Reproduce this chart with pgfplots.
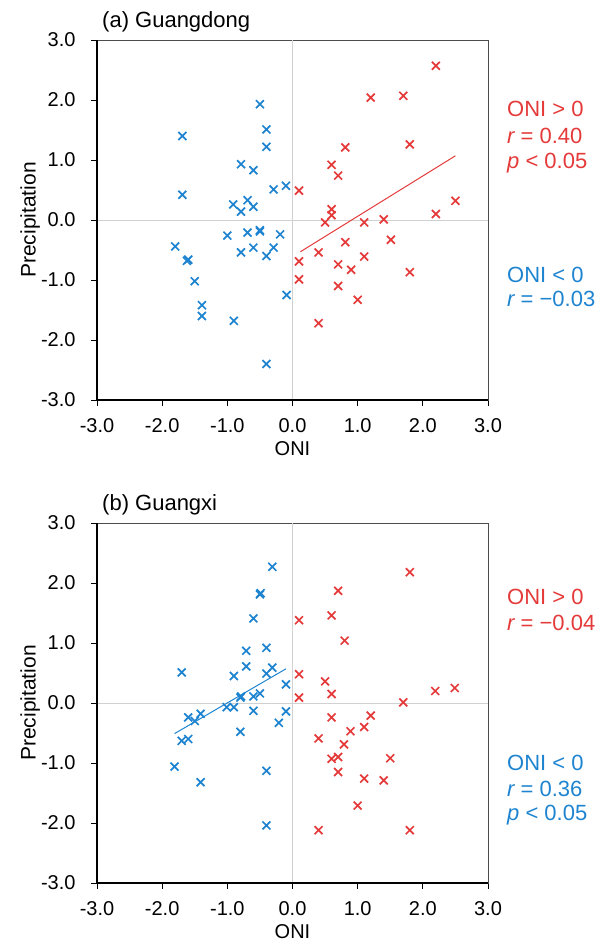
\documentclass[border=0pt]{standalone}
\usepackage{fontspec}
\setmainfont{Liberation Sans}
\usepackage{pgfplots}
\pgfplotsset{compat=1.18}
\definecolor{myred}{RGB}{228,58,58}
\definecolor{myblue}{RGB}{30,132,208}

\pgfplotsset{
  panel/.style={
    scale only axis, width=391pt, height=360pt,
    xmin=-3, xmax=3, ymin=-3, ymax=3,
    xtick={-3,-2,...,3}, ytick={-3,-2,...,3},
    tick align=outside, tick pos=left, major tick length=6pt,
    tick style={black, line width=0.8pt},
    axis line style={draw=black!70, line width=0.8pt},
    ticklabel style={font=\fontsize{20}{24}\selectfont},
    xticklabel style={yshift=-9pt},
    yticklabel style={xshift=-12pt},
    /pgf/number format/fixed, /pgf/number format/fixed zerofill,
    /pgf/number format/precision=1, /pgf/number format/assume math mode=true,
    xlabel style={font=\fontsize{20}{24}\selectfont, at={(axis description cs:0.5,-0.135)}, anchor=center},
    ylabel style={font=\fontsize{21}{25}\selectfont, at={(axis description cs:-0.171,0.5)}, anchor=center, rotate=0},
    clip=false,
  },
  redx/.style={only marks, mark=x, mark size=5.6pt, color=myred, mark options={line width=1.7pt}},
  bluex/.style={only marks, mark=x, mark size=5.6pt, color=myblue, mark options={line width=1.7pt}},
}

\begin{document}
\begin{tikzpicture}
% ---------------- Panel (a) ----------------
\begin{axis}[panel, at={(0pt,0pt)}, anchor=south west, xlabel={ONI}, ylabel={Precipitation}]
\draw[black!18, line width=1pt] (axis cs:0,-3) -- (axis cs:0,3);
\draw[black!18, line width=1pt] (axis cs:-3,0) -- (axis cs:3,0);
\addplot[bluex] table {
x y
-0.50 1.93
-1.69 1.40
-0.40 1.51
-0.40 1.22
-0.79 0.93
-0.60 0.83
-1.69 0.42
-0.29 0.51
-0.10 0.57
-0.91 0.26
-0.79 0.14
-0.69 0.33
-0.60 0.22
-1.00 -0.26
-0.69 -0.21
-0.50 -0.17
-0.50 -0.19
-0.19 -0.24
-1.80 -0.44
-0.79 -0.54
-0.60 -0.46
-0.29 -0.46
-0.40 -0.60
-1.60 -0.66
-1.62 -0.68
-1.50 -1.02
-1.39 -1.42
-1.39 -1.60
-0.90 -1.68
-0.09 -1.25
-0.40 -2.40
};
\addplot[redx] table {
x y
2.20 2.57
1.20 2.04
1.70 2.07
0.81 1.21
1.80 1.26
0.60 0.92
0.70 0.74
0.10 0.49
2.50 0.32
2.20 0.10
0.60 0.18
0.60 0.08
0.50 -0.04
1.10 -0.04
1.40 0.01
0.81 -0.37
1.51 -0.33
0.40 -0.54
0.10 -0.69
1.10 -0.61
0.70 -0.74
0.90 -0.83
1.80 -0.87
0.10 -0.99
0.70 -1.10
1.00 -1.33
0.40 -1.72
};
\addplot[myred, line width=1pt, no marks] coordinates {(0.12,-0.53) (2.50,1.07)};
\draw[black, line width=1.5pt] (rel axis cs:0,1) -- (rel axis cs:0,0) -- (rel axis cs:1,0);
\node[anchor=west, font=\fontsize{22}{26}\selectfont, inner sep=0pt] at ([xshift=5pt,yshift=18pt]rel axis cs:0,1) {(a) Guangdong};
\end{axis}

% ---------------- Panel (b) ----------------
\begin{axis}[panel, at={(0pt,-483pt)}, anchor=south west, xlabel={ONI}, ylabel={Precipitation}]
\draw[black!18, line width=1pt] (axis cs:0,-3) -- (axis cs:0,3);
\draw[black!18, line width=1pt] (axis cs:-3,0) -- (axis cs:3,0);
\addplot[bluex] table {
x y
-0.31 2.27
-0.50 1.81
-0.49 1.83
-0.60 1.41
-0.71 0.87
-0.40 0.92
-0.71 0.61
-0.31 0.59
-0.40 0.49
-1.70 0.51
-0.90 0.45
-0.10 0.31
-0.80 0.09
-0.79 0.11
-0.60 0.11
-0.50 0.16
-1.01 -0.07
-0.90 -0.07
-0.60 -0.13
-0.10 -0.14
-1.41 -0.18
-1.60 -0.24
-1.50 -0.30
-0.21 -0.33
-0.80 -0.48
-1.70 -0.63
-1.60 -0.60
-1.81 -1.06
-1.41 -1.32
-0.40 -1.13
-0.40 -2.04
};
\addplot[redx] table {
x y
1.80 2.18
0.70 1.87
0.60 1.46
0.10 1.38
0.80 1.04
0.10 0.48
0.50 0.36
2.19 0.20
2.49 0.25
0.60 0.15
0.10 0.09
1.70 0.01
0.60 -0.24
1.20 -0.21
1.10 -0.40
0.89 -0.47
0.40 -0.59
0.79 -0.69
0.60 -0.93
0.70 -0.90
1.50 -0.92
0.70 -1.15
1.10 -1.26
1.40 -1.29
1.00 -1.71
0.40 -2.12
1.80 -2.12
};
\addplot[myblue, line width=1pt, no marks] coordinates {(-1.81,-0.51) (-0.10,0.57)};
\draw[black, line width=1.5pt] (rel axis cs:0,1) -- (rel axis cs:0,0) -- (rel axis cs:1,0);
\node[anchor=west, font=\fontsize{22}{26}\selectfont, inner sep=0pt] at ([xshift=5pt,yshift=18pt]rel axis cs:0,1) {(b) Guangxi};
\end{axis}

% ---------------- Annotations ----------------
\begin{scope}[every node/.style={anchor=west, inner sep=0pt, font=\fontsize{22}{26}\selectfont}]
\node[text=myred] at (410pt,291pt) {ONI > 0};
\node[text=myred] at (410pt,264pt) {{\itshape r} = 0.40};
\node[text=myred] at (410pt,237pt) {{\itshape p} < 0.05};
\node[text=myblue] at (410pt,125pt) {ONI < 0};
\node[text=myblue] at (410pt,101pt) {{\itshape r} = −0.03};
\node[text=myred] at (410pt,-197pt) {ONI > 0};
\node[text=myred] at (410pt,-223pt) {{\itshape r} = −0.04};
\node[text=myblue] at (410pt,-363pt) {ONI < 0};
\node[text=myblue] at (410pt,-389pt) {{\itshape r} = 0.36};
\node[text=myblue] at (410pt,-415pt) {{\itshape p} < 0.05};
\end{scope}

\pgfresetboundingbox
\path[use as bounding box] (-97pt,-542pt) rectangle (501pt,400pt);
\end{tikzpicture}
\end{document}
